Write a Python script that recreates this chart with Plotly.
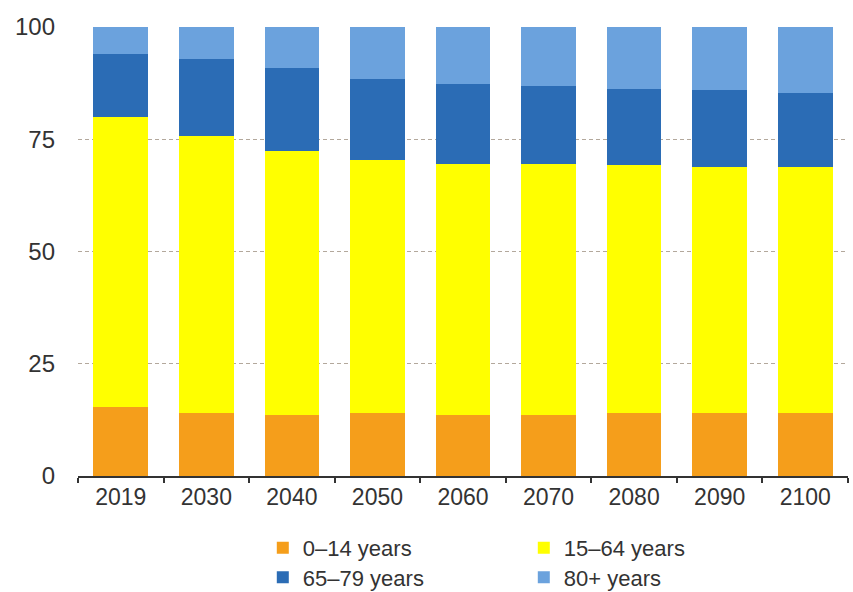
import plotly.graph_objects as go

years = ["2019", "2030", "2040", "2050", "2060", "2070", "2080", "2090", "2100"]

# Population structure by age group, % of total
age_0_14 = [15.3, 14.0, 13.6, 14.0, 13.6, 13.6, 14.0, 14.0, 14.0]
age_15_64 = [64.6, 61.8, 58.7, 56.3, 56.0, 56.0, 55.2, 54.9, 54.9]
age_65_79 = [14.0, 17.0, 18.5, 18.1, 17.7, 17.2, 17.1, 17.1, 16.3]
age_80_plus = [6.1, 7.2, 9.2, 11.6, 12.7, 13.2, 13.7, 14.0, 14.8]

series = [
    ("0\u201314 years", age_0_14, "#f59e1b", "legend"),
    ("15\u201364 years", age_15_64, "#ffff00", "legend"),
    ("65\u201379 years", age_65_79, "#2b6cb5", "legend2"),
    ("80+ years", age_80_plus, "#6ba2dd", "legend2"),
]

FONT = "Liberation Sans, Arial, sans-serif"
TEXT = "#333333"

fig = go.Figure()
for name, vals, color, leg in series:
    fig.add_trace(go.Bar(
        x=years, y=vals, name=name,
        marker=dict(color=color, line=dict(width=0)),
        legend=leg,
    ))

legend_common = dict(
    orientation="h",
    xanchor="left",
    yanchor="middle",
    x=0.24,
    entrywidth=216,
    entrywidthmode="pixels",
    font=dict(family=FONT, size=22, color=TEXT),
    bgcolor="rgba(0,0,0,0)",
    itemwidth=30,
    traceorder="normal",
)

fig.update_layout(
    width=853,
    height=592,
    barmode="stack",
    bargap=0.36,
    paper_bgcolor="white",
    plot_bgcolor="white",
    margin=dict(l=78, r=5, t=27, b=116, autoexpand=False),
    font=dict(family=FONT, color=TEXT),
    legend=dict(y=-0.160, **legend_common),
    legend2=dict(y=-0.226, **legend_common),
    xaxis=dict(
        type="category",
        showline=True,
        linecolor="#333333",
        linewidth=1.5,
        ticks="outside",
        tickson="boundaries",
        ticklen=5,
        tickcolor="#333333",
        tickwidth=1.5,
        tickfont=dict(family=FONT, size=23, color=TEXT),
        showgrid=False,
    ),
    yaxis=dict(
        range=[0, 100],
        tickvals=[0, 25, 50, 75, 100],
        showgrid=True,
        gridcolor="#b3a89c",
        griddash="4px,3px",
        gridwidth=1,
        zeroline=False,
        showline=False,
        ticks="",
        ticklabelstandoff=22,
        tickfont=dict(family=FONT, size=24, color=TEXT),
    ),
)

fig.write_html("out.html")
